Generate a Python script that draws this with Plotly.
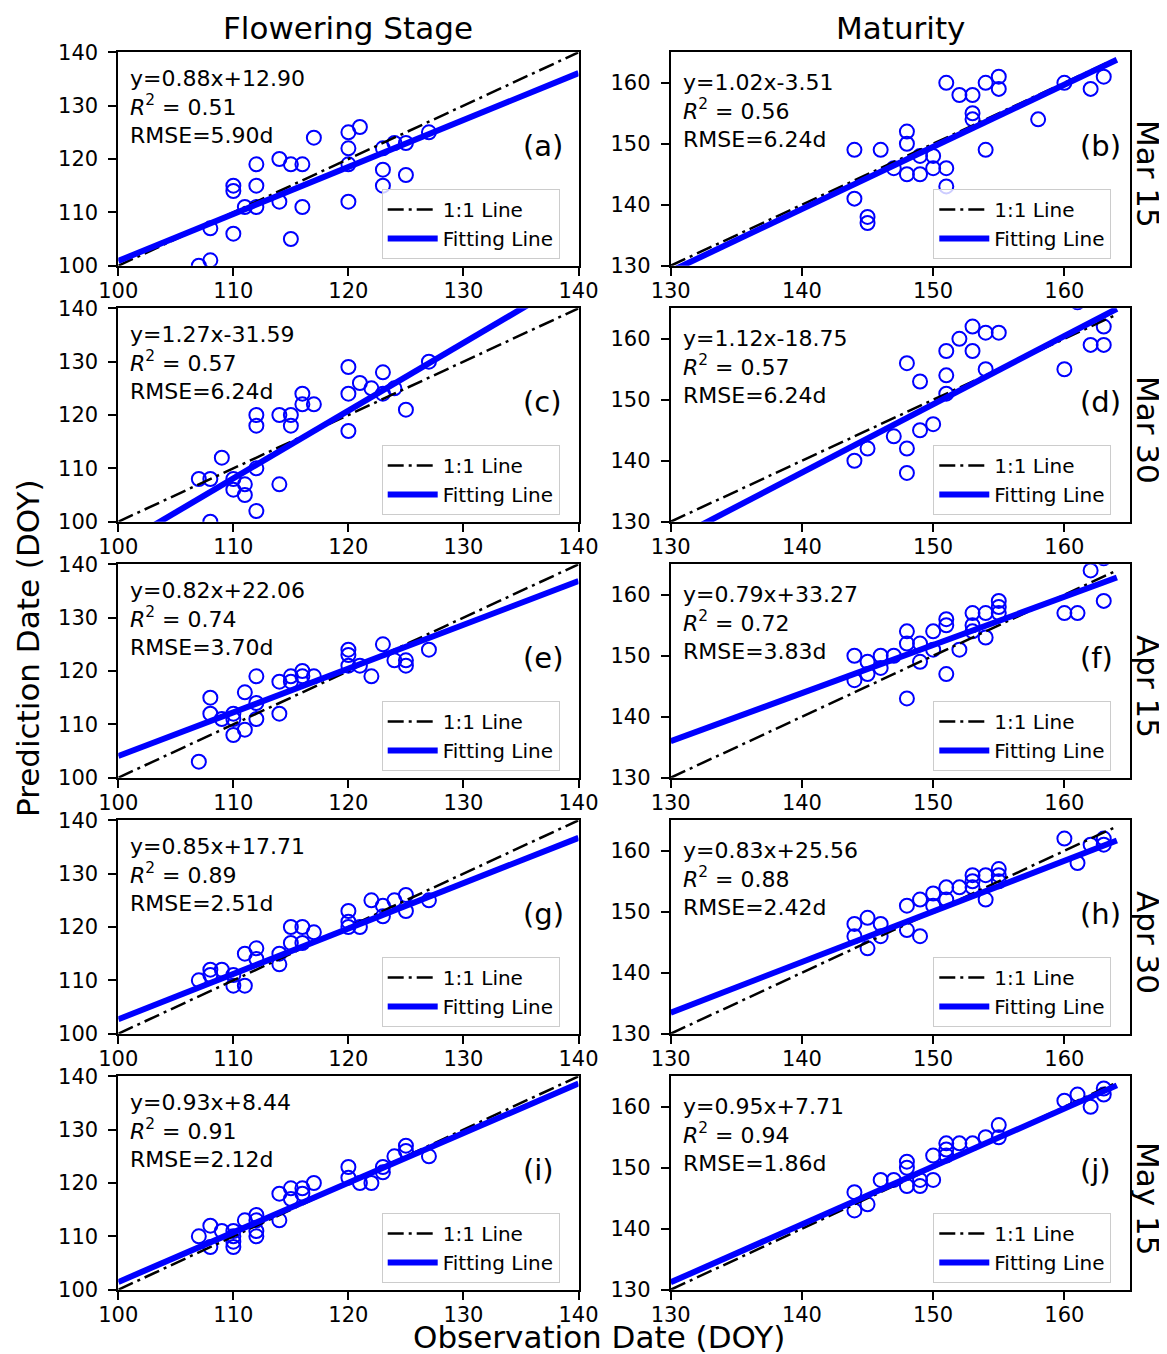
import plotly.graph_objects as go

# ---------------- data ----------------
panel_letters = ["(a)", "(b)", "(c)", "(d)", "(e)", "(f)", "(g)", "(h)", "(i)", "(j)"]
row_labels = ["Mar 15", "Mar 30", "Apr 15", "Apr 30", "May 15"]
col_titles = ["Flowering Stage", "Maturity"]

slopes = [0.88, 1.02, 1.27, 1.12, 0.82, 0.79, 0.85, 0.83, 0.93, 0.95]
intercepts = [12.90, -3.51, -31.59, -18.75, 22.06, 33.27, 17.71, 25.56, 8.44, 7.71]
r2_vals = ["0.51", "0.56", "0.57", "0.57", "0.74", "0.72", "0.89", "0.88", "0.91", "0.94"]
rmse_vals = ["5.90", "6.24", "6.24", "6.24", "3.70", "3.83", "2.51", "2.42", "2.12", "1.86"]
eq_texts = ["y=0.88x+12.90", "y=1.02x-3.51", "y=1.27x-31.59", "y=1.12x-18.75",
            "y=0.82x+22.06", "y=0.79x+33.27", "y=0.85x+17.71", "y=0.83x+25.56",
            "y=0.93x+8.44", "y=0.95x+7.71"]

a_obs = [112, 114, 115, 116, 117, 120, 121, 120, 120, 123, 124, 125, 127, 123, 123, 125, 120,
         110, 110, 112, 111, 112, 114, 116, 108, 110, 115, 108, 107]
a_pred = [119, 120, 119, 119, 124, 125, 126, 122, 119, 122, 123, 123, 125, 118, 115, 117, 112,
          115, 114, 115, 111, 111, 112, 111, 107, 106, 105, 101, 100]

b_obs = [144, 146, 144, 145, 145, 147, 148, 148, 148, 149, 149, 150, 150, 151, 151, 151, 152,
         153, 153, 153, 154, 155, 155, 154, 158, 160, 162, 163]
b_pred = [149, 149, 141, 138, 137, 146, 152, 150, 145, 148, 145, 148, 146, 146, 143, 160, 158,
          158, 155, 154, 160, 161, 159, 149, 154, 160, 159, 161]

c_obs = [112, 112, 114, 115, 115, 116, 116, 117, 120, 120, 120, 121, 122, 123, 123, 124, 125,
         127, 109, 107, 108, 110, 110, 111, 111, 112, 112, 114, 108]
c_pred = [120, 118, 120, 120, 118, 124, 122, 122, 129, 124, 117, 126, 125, 128, 124, 125, 121,
          130, 112, 108, 108, 108, 106, 107, 105, 110, 102, 107, 100]

d_obs = [144, 145, 147, 148, 148, 148, 149, 149, 150, 151, 151, 151, 152, 153, 153, 154, 154,
         155, 160, 162, 163, 163, 161]
d_pred = [140, 142, 144, 156, 142, 138, 153, 145, 146, 158, 154, 151, 160, 162, 158, 161, 155,
          161, 155, 159, 159, 162, 166]

e_obs = [107, 108, 108, 109, 110, 110, 110, 111, 111, 112, 112, 112, 114, 114, 115, 115, 116,
         116, 117, 120, 120, 120, 121, 122, 123, 124, 125, 125, 127]
e_pred = [103, 115, 112, 111, 112, 111, 108, 116, 109, 119, 114, 111, 118, 112, 119, 118, 120,
          119, 119, 124, 123, 121, 121, 119, 125, 122, 122, 121, 124]

f_obs = [144, 144, 145, 145, 146, 146, 147, 148, 148, 148, 149, 149, 150, 150, 151, 151, 151,
         152, 153, 153, 153, 154, 154, 155, 155, 155, 160, 161, 162, 163, 163]
f_pred = [150, 146, 149, 147, 150, 148, 150, 154, 152, 143, 152, 149, 154, 151, 156, 155, 147,
          151, 157, 155, 154, 157, 153, 159, 158, 157, 157, 157, 164, 159, 166]

g_obs = [107, 108, 108, 109, 110, 110, 111, 111, 112, 112, 114, 114, 115, 115, 116, 116, 117,
         120, 120, 120, 121, 122, 123, 123, 124, 125, 125, 127]
g_pred = [110, 112, 111, 112, 111, 109, 109, 115, 116, 114, 113, 115, 120, 117, 120, 117, 119,
          123, 121, 120, 120, 125, 124, 122, 125, 126, 123, 125]

h_obs = [144, 144, 145, 145, 146, 146, 148, 148, 149, 149, 150, 150, 151, 151, 152, 153, 153,
         153, 154, 154, 155, 155, 155, 160, 161, 162, 163, 163]
h_pred = [148, 146, 149, 144, 148, 146, 151, 147, 152, 146, 153, 151, 154, 152, 154, 156, 155,
          154, 156, 152, 157, 156, 155, 162, 158, 161, 162, 161]

i_obs = [107, 108, 108, 109, 110, 110, 110, 110, 111, 112, 112, 112, 112, 114, 114, 115, 115,
         116, 116, 117, 120, 120, 121, 122, 123, 123, 124, 125, 125, 127]
i_pred = [110, 112, 108, 111, 111, 110, 109, 108, 113, 114, 113, 111, 110, 118, 113, 119, 117,
          119, 118, 120, 123, 121, 120, 120, 123, 122, 125, 127, 126, 125]

j_obs = [144, 144, 145, 146, 147, 148, 148, 148, 149, 149, 150, 150, 151, 151, 151, 152, 153,
         154, 155, 155, 160, 161, 162, 163, 163]
j_pred = [146, 143, 144, 148, 148, 151, 150, 147, 148, 147, 148, 152, 154, 153, 152, 154, 154,
          155, 157, 155, 161, 162, 160, 163, 162]

obs_all = [a_obs, b_obs, c_obs, d_obs, e_obs, f_obs, g_obs, h_obs, i_obs, j_obs]
pred_all = [a_pred, b_pred, c_pred, d_pred, e_pred, f_pred, g_pred, h_pred, i_pred, j_pred]

flower_ticks = [100, 110, 120, 130, 140]
maturity_ticks = [130, 140, 150, 160]
flower_range = [100, 140]
maturity_range = [130, 165]
flower_line_x = [100, 140]
maturity_line_x = [130, 164]

# ---------------- layout geometry (page pixels) ----------------
OFF = 8                      # the html body margin offsets the figure by 8 px
W, H = 1167 - OFF, 1354 - OFF


def px(x):
    return (x - OFF) / W


def py(y):
    return 1 - (y - OFF) / H


col_px = [(118.3, 578.5), (670.7, 1130.0)]
row_top0, row_h, row_pitch = 52.3, 213.4, 256.0
FONT = "DejaVu Sans"
BLUE = "#0000ff"

fig = go.Figure()
layout = dict(template="none", width=W, height=H,
              margin=dict(l=0, r=0, t=0, b=0, pad=0, autoexpand=False),
              paper_bgcolor="white", plot_bgcolor="white",
              font=dict(family=FONT, color="black"), showlegend=True)
annotations = []

for i in range(10):
    r, c = divmod(i, 2)
    n = i + 1
    xs = "" if n == 1 else str(n)
    xa, ya = "x" + xs, "y" + xs
    leg = "legend" + xs
    top = row_top0 + r * row_pitch
    bot = top + row_h
    x0, x1 = col_px[c]
    rng = flower_range if c == 0 else maturity_range
    ticks = flower_ticks if c == 0 else maturity_ticks
    lx = flower_line_x if c == 0 else maturity_line_x

    fig.add_trace(go.Scatter(
        x=obs_all[i], y=pred_all[i], mode="markers", xaxis=xa, yaxis=ya,
        marker=dict(symbol="circle-open", size=14, color=BLUE, line=dict(width=2, color=BLUE)),
        showlegend=False, hoverinfo="x+y"))
    fig.add_trace(go.Scatter(
        x=lx, y=lx, mode="lines", xaxis=xa, yaxis=ya, name="1:1 Line", legend=leg,
        line=dict(color="black", width=2.5, dash="16px,5px,3px,5px")))
    fig.add_trace(go.Scatter(
        x=lx, y=[slopes[i] * v + intercepts[i] for v in lx], mode="lines",
        xaxis=xa, yaxis=ya, name="Fitting Line", legend=leg,
        line=dict(color=BLUE, width=6)))

    axis_common = dict(showline=True, mirror=True, linecolor="black", linewidth=1.8,
                       ticks="outside", ticklen=8, tickwidth=1.8, tickcolor="black",
                       showgrid=False, zeroline=False, tickfont=dict(size=21, family=FONT),
                       tickvals=ticks, range=rng, fixedrange=True, automargin=False)
    layout["xaxis" + xs] = dict(axis_common, domain=[px(x0), px(x1)], anchor=ya,
                                ticklabelstandoff=-3)
    layout["yaxis" + xs] = dict(axis_common, domain=[py(bot), py(top)], anchor=xa,
                                ticklabelstandoff=6)

    # legend box
    layout[leg] = dict(x=px(381.7 if c == 0 else 933.3), y=py(top + 136.7),
                       xanchor="left", yanchor="top", xref="paper", yref="paper",
                       bgcolor="rgba(255,255,255,0.8)", bordercolor="#cccccc", borderwidth=1,
                       font=dict(size=20, family=FONT), itemwidth=50,
                       entrywidth=122, entrywidthmode="pixels")

    # statistics text
    sx = (127.5 - x0) / (x1 - x0) if c == 0 else (681 - x0) / (x1 - x0)
    first_center = 78 if c == 0 else 82
    sy = (bot - (top + (first_center - row_top0) - 14.3)) / row_h
    annotations.append(dict(
        xref=xa + " domain", yref=ya + " domain", x=sx, y=sy, xanchor="left", yanchor="top",
        showarrow=False, align="left", font=dict(size=22, family=FONT),
        text=eq_texts[i] + "<br><i>R</i><sup>2</sup> = " + r2_vals[i] +
             "<br>RMSE=" + rmse_vals[i] + "d"))
    # panel letter
    annotations.append(dict(
        xref=xa + " domain", yref=ya + " domain",
        x=((520.7 if c == 0 else 1078) - x0) / (x1 - x0), y=(bot - (top + 93.7)) / row_h,
        xanchor="left", yanchor="middle", showarrow=False,
        font=dict(size=29, family=FONT), text=panel_letters[i]))

for r, lab in enumerate(row_labels):
    top = row_top0 + r * row_pitch
    annotations.append(dict(xref="paper", yref="paper", x=px(1148), y=py(top + 121.7),
                            xanchor="center", yanchor="middle", textangle=90, showarrow=False,
                            font=dict(size=31, family=FONT), text=lab))

for c, t in enumerate(col_titles):
    x0, x1 = col_px[c]
    annotations.append(dict(xref="paper", yref="paper", x=px((x0 + x1) / 2), y=py(28),
                            xanchor="center", yanchor="middle", showarrow=False,
                            font=dict(size=31, family=FONT), text=t))

annotations.append(dict(xref="paper", yref="paper", x=px(598.5), y=py(1337),
                        xanchor="center", yanchor="middle", showarrow=False,
                        font=dict(size=31, family=FONT), text="Observation Date (DOY)"))
annotations.append(dict(xref="paper", yref="paper", x=px(28), y=py(648),
                        xanchor="center", yanchor="middle", textangle=-90, showarrow=False,
                        font=dict(size=31, family=FONT), text="Prediction Date (DOY)"))

layout["annotations"] = annotations
fig.update_layout(**layout)
fig.write_html("out.html")
